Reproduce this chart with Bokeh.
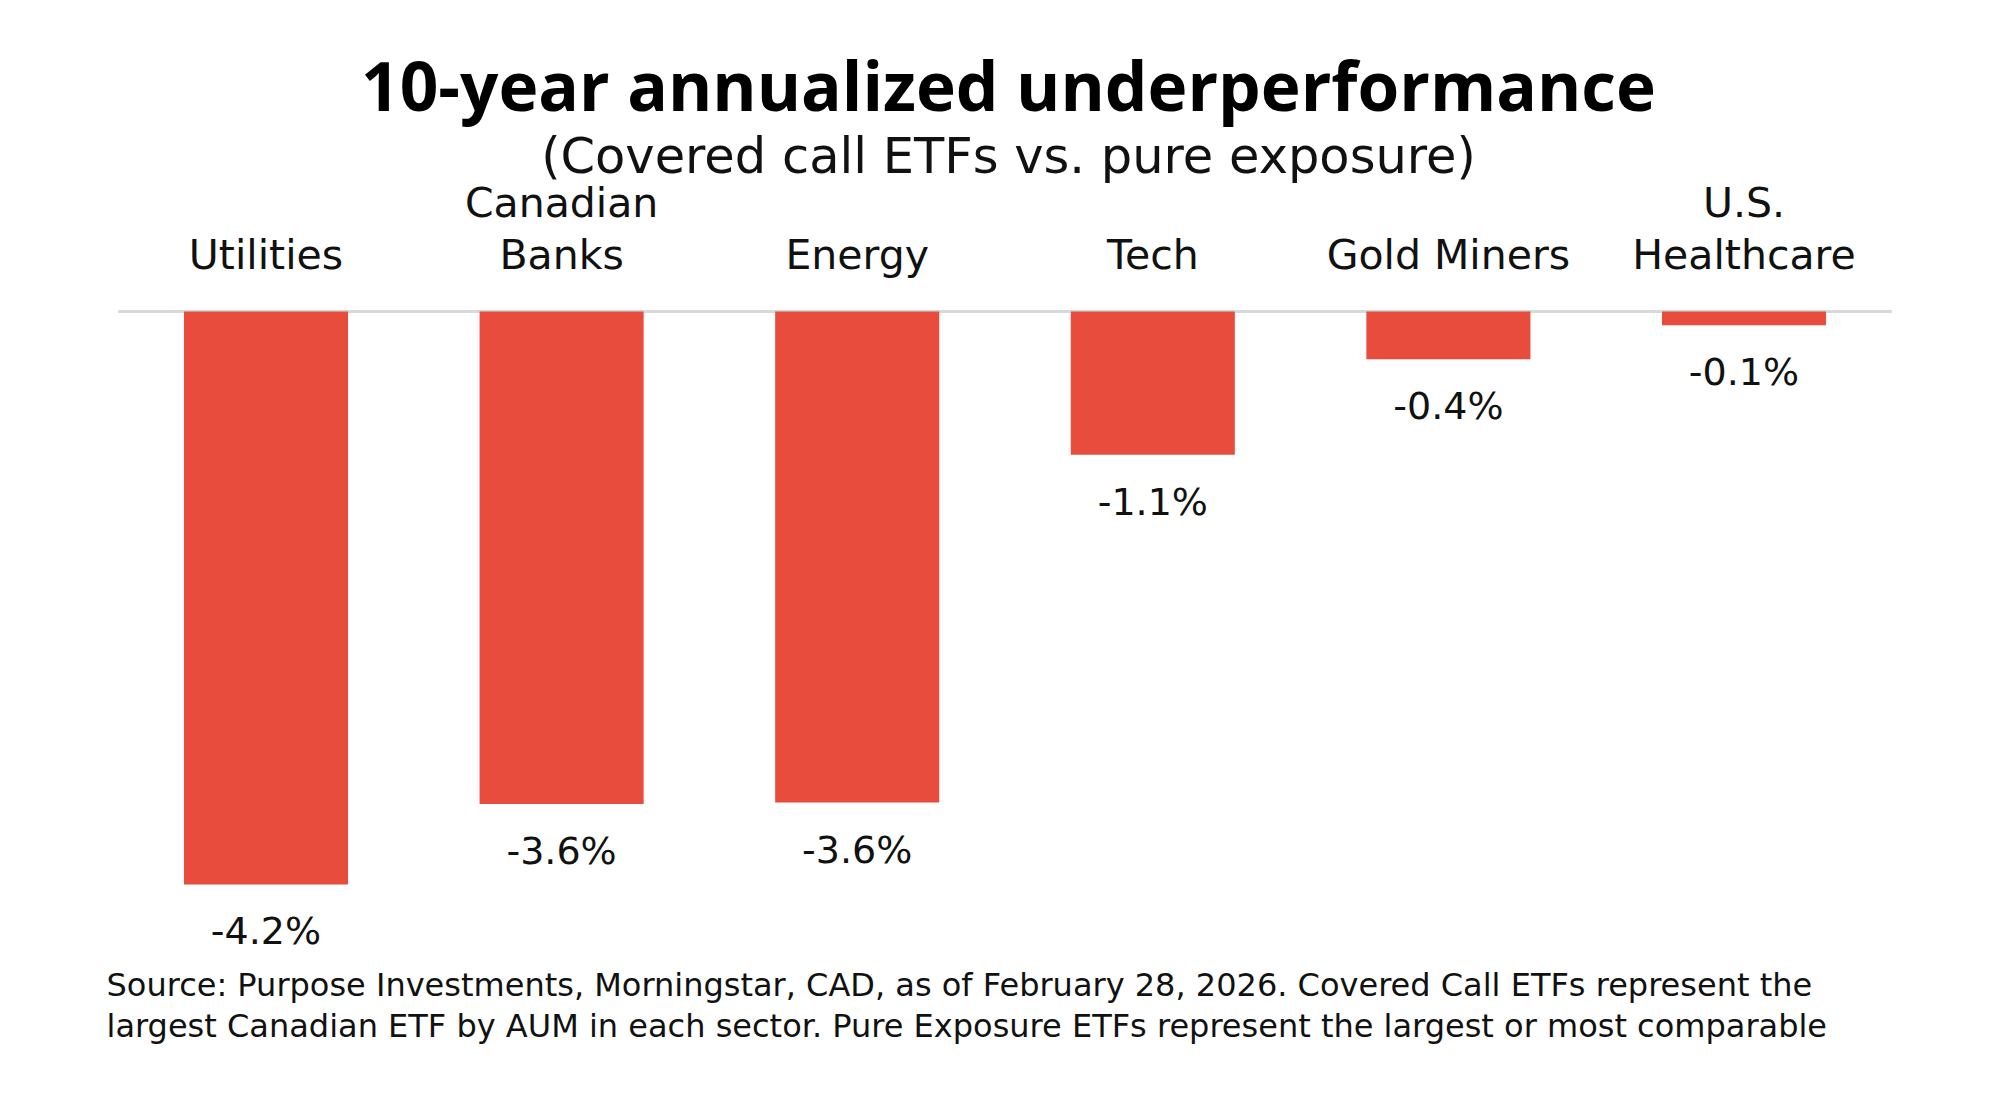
from bokeh.plotting import figure
from bokeh.models import ColumnDataSource, Range1d, Label
from bokeh.core.properties import value
from bokeh.embed import file_html
from bokeh.resources import INLINE

# ---- data ----
categories = ["Utilities", "Canadian\nBanks", "Energy", "Tech", "Gold Miners", "U.S.\nHealthcare"]
underperformance = [-4.20, -3.61, -3.60, -1.05, -0.35, -0.10]
value_labels = ["-4.2%", "-3.6%", "-3.6%", "-1.1%", "-0.4%", "-0.1%"]

title_text = "10-year annualized underperformance"
subtitle_text = "(Covered call ETFs vs. pure exposure)"
footnote_lines = [
    "Source: Purpose Investments, Morningstar, CAD, as of February 28, 2026.  Covered Call ETFs represent the",
    "largest Canadian ETF by AUM in each sector. Pure Exposure ETFs represent the largest or most comparable",
]

# ---- layout ----
W, H = 1984, 1100
FONT = "DejaVu Sans"
TITLE_FONT = "Open Sans"
BAR_COLOR = "#E74C3C"

xpos = list(range(len(categories)))
line1 = [c.split("\n")[0] if "\n" in c else "" for c in categories]
line2 = [c.split("\n")[-1] for c in categories]

PX_X = 295.6
PX_Y = 136.4
X0 = 265.5
Y0 = 311.0

p = figure(width=W, height=H, output_backend="svg", toolbar_location=None,
           x_range=Range1d(-X0 / PX_X, (W - X0) / PX_X),
           y_range=Range1d(-(H - Y0) / PX_Y, Y0 / PX_Y),
           x_axis_location=None, y_axis_location=None, min_border=0,
           outline_line_color=None, background_fill_color="white",
           border_fill_color="white")
p.xgrid.visible = False
p.ygrid.visible = False

src = ColumnDataSource(dict(x=xpos, top=[0] * len(xpos), bottom=underperformance,
                            lab=value_labels, l1=line1, l2=line2,
                            zero=[0] * len(xpos)))

# zero line
p.segment(x0=[-0.5], y0=[0], x1=[len(categories) - 0.5], y1=[0],
          line_color="#D9D9D9", line_width=3)

p.vbar(x="x", top="top", bottom="bottom", width=0.555, source=src,
       fill_color=BAR_COLOR, line_color=None)

# value labels under bars
p.text(x="x", y="bottom", text="lab", source=src, text_align="center",
       text_baseline="alphabetic", y_offset=47, text_font=value(FONT),
       text_font_size="38px", text_color="#111111")

# category labels above the zero line
p.text(x="x", y="zero", text="l2", source=src, text_align="center",
       text_baseline="alphabetic", y_offset=-57, text_font=value(FONT),
       text_font_size="41px", text_color="#111111")
p.text(x="x", y="zero", text="l1", source=src, text_align="center",
       text_baseline="alphabetic", y_offset=-109, text_font=value(FONT),
       text_font_size="41px", text_color="#111111")

# titles
p.add_layout(Label(x=1008, y=H - 84, x_units="screen", y_units="screen",
                   text=title_text, text_align="center", text_baseline="alphabetic",
                   text_font=TITLE_FONT, text_font_style="bold", text_font_size="67.5px",
                   text_color="#000000"))
p.add_layout(Label(x=1008, y=H - 155.5, x_units="screen", y_units="screen",
                   text=subtitle_text, text_align="center", text_baseline="alphabetic",
                   text_font=FONT, text_font_size="49.5px", text_color="#111111"))

# footnote
for i, t in enumerate(footnote_lines):
    p.add_layout(Label(x=106, y=116 - 41 * i, x_units="screen", y_units="screen",
                       text=t, text_align="left", text_baseline="alphabetic",
                       text_font=FONT, text_font_size="32px", text_color="#111111"))

open("out.html", "w").write(file_html(p, INLINE))
